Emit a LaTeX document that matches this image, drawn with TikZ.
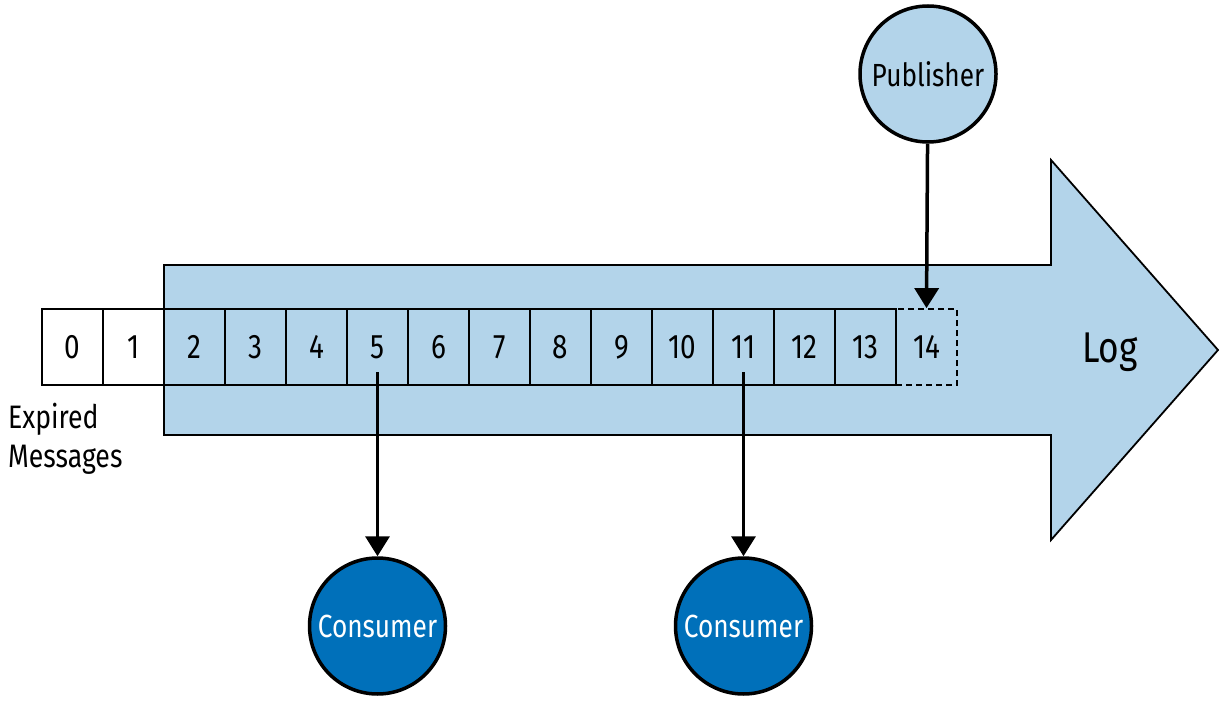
\documentclass[tikz,border=0pt]{standalone}
\usepackage{fontspec}
\setmainfont[FakeStretch=0.82]{Fira Sans}
\usepackage{tikz}
\usetikzlibrary{arrows.meta}
\definecolor{logblue}{HTML}{B3D4EA}
\definecolor{consblue}{HTML}{0070BA}
\tikzset{
  msgbox/.style={draw, line width=1.8pt, minimum width=61pt, minimum height=76pt, inner sep=0pt, font=\fontsize{34}{40}\selectfont},
  agent/.style={circle, draw, line width=3.5pt, minimum size=136pt, inner sep=0pt, font=\fontsize{32}{38}\selectfont},
  feed/.style={line width=3.5pt, ->}
}
\begin{document}
\begin{tikzpicture}[line cap=butt,line join=miter,>={Triangle[length=20pt,width=24pt]},x=1pt,y=-1pt]
\useasboundingbox (0,0) rectangle (1223,711);
% log arrow
\draw [fill=logblue, line width=1.8pt] (164,265)--(1051,265)--(1051,160)--(1218,350)--(1051,540)--(1051,435)--(164,435)--cycle;
\node [font=\fontsize{43}{48}\selectfont] (log) at (1110,352) {Log};
% messages
\foreach \i in {0,...,13}
  \node [msgbox] (b\i) at (72.5+61*\i,347) {\i};
\fill [white] (42,309) rectangle (164,385);
\node [msgbox] at (b0) {0};
\node [msgbox] at (b1) {1};
\node [msgbox, dashed, dash pattern=on 6pt off 4pt] (b14) at (72.5+61*14,347) {14};
\node [align=left, anchor=north west, inner sep=0pt, font=\fontsize{32.5}{39}\selectfont] (exp) at (8,403) {Expired\\Messages};
% publisher and consumers
\node [agent, fill=logblue] (pub) at (928,74) {Publisher};
\node [agent, fill=consblue, text=white] (con1) at (377.5,626) {Consumer};
\node [agent, fill=consblue, text=white] (con2) at (743.5,626) {Consumer};
\coordinate (r5) at (377.5,372);
\coordinate (r11) at (743.5,372);
\draw [feed] (pub) -- (b14.north);
\draw [feed] (r5) -- (con1.north);
\draw [feed] (r11) -- (con2.north);
\end{tikzpicture}
\end{document}
